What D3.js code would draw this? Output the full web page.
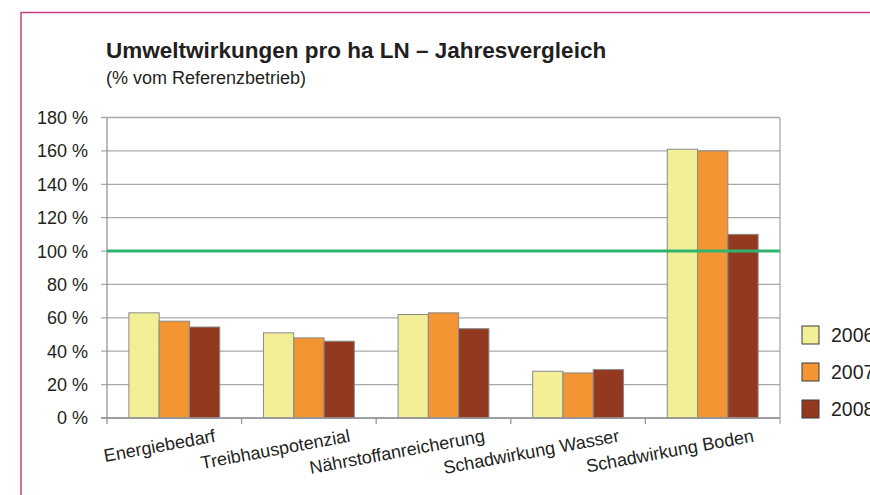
<!DOCTYPE html>
<html>
<head>
<meta charset="utf-8">
<script src="https://cdn.jsdelivr.net/npm/d3@7"></script>
<style>
  body { margin: 0; background: #fff; }
  text { font-family: "Liberation Sans", Arial, sans-serif; fill: #231f20; }
</style>
</head>
<body>
<div id="root"></div>
<script>
const categories = ["Energiebedarf", "Treibhauspotenzial", "Nährstoffanreicherung", "Schadwirkung Wasser", "Schadwirkung Boden"];
const years = ["2006", "2007", "2008"];
const values2006 = [63, 51, 62, 28, 161];
const values2007 = [58, 48, 63, 27, 160];
const values2008 = [54.5, 46, 53.5, 29, 110];
const yTicks = [0, 20, 40, 60, 80, 100, 120, 140, 160, 180];
const referenceLine = 100;
const colors = ["#f2ef97", "#f39532", "#933920"];

const seriesValues = [values2006, values2007, values2008];

const outerWidth = 870;
const outerHeight = 495;
const margin = { top: 117.5, left: 107, right: 90, bottom: 77 };
const width = outerWidth - margin.left - margin.right;
const height = outerHeight - margin.top - margin.bottom;

let svg = d3.select("#root")
            .append("svg")
            .attr("width", outerWidth)
            .attr("height", outerHeight);

// pink frame (top and left only visible)
svg.append("line")
    .attr("x1", 21).attr("x2", outerWidth)
    .attr("y1", 12.5).attr("y2", 12.5)
    .attr("stroke", "#c5417f").attr("stroke-width", 1.5);
svg.append("line")
    .attr("x1", 21).attr("x2", 21)
    .attr("y1", 12).attr("y2", outerHeight)
    .attr("stroke", "#c5417f").attr("stroke-width", 1.5);

svg.append("text")
    .attr("x", 106).attr("y", 57.5)
    .style("font-size", "22.5px")
    .style("font-weight", "bold")
    .text("Umweltwirkungen pro ha LN – Jahresvergleich");

svg.append("text")
    .attr("x", 106).attr("y", 83.5)
    .style("font-size", "18px")
    .text("(% vom Referenzbetrieb)");

let chart = svg.append("g")
               .attr("transform", `translate(${margin.left}, ${margin.top})`);

let scaleY = d3.scaleLinear().domain([0, 180]).range([height, 0]);
let scaleX = d3.scaleBand().domain(categories).range([0, width]).paddingInner(0.325).paddingOuter(0.1625);
let scaleSub = d3.scaleBand().domain(years).range([0, scaleX.bandwidth()]);

// gridlines with left tick extension
chart.append("g")
    .selectAll("line")
    .data(yTicks)
    .enter().append("line")
      .attr("x1", -6).attr("x2", width)
      .attr("y1", d => scaleY(d)).attr("y2", d => scaleY(d))
      .attr("stroke", "#a7a9ac").attr("stroke-width", 1.3);

// left and right frame of plot area
chart.append("line")
    .attr("x1", 0).attr("x2", 0).attr("y1", 0).attr("y2", height + 6)
    .attr("stroke", "#939598").attr("stroke-width", 1.3);
chart.append("line")
    .attr("x1", width).attr("x2", width).attr("y1", 0).attr("y2", height + 6)
    .attr("stroke", "#a7a9ac").attr("stroke-width", 1.3);

// category boundary ticks
chart.append("g")
    .selectAll("line")
    .data(d3.range(1, categories.length))
    .enter().append("line")
      .attr("x1", i => i * width / categories.length)
      .attr("x2", i => i * width / categories.length)
      .attr("y1", height).attr("y2", height + 6)
      .attr("stroke", "#939598").attr("stroke-width", 1.3);

chart.append("g")
    .selectAll("text")
    .data(yTicks)
    .enter().append("text")
      .attr("x", -19)
      .attr("y", d => scaleY(d))
      .attr("dy", "0.36em")
      .style("text-anchor", "end")
      .style("font-size", "18px")
      .text(d => `${d} %`);

// bars
let group = chart.selectAll(".cat")
    .data(categories)
    .enter().append("g")
      .attr("class", "cat")
      .attr("transform", d => `translate(${scaleX(d)}, 0)`);

group.selectAll("rect")
    .data((d, i) => years.map((y, j) => ({ year: y, value: seriesValues[j][i], k: j })))
    .enter().append("rect")
      .attr("x", d => scaleSub(d.year))
      .attr("width", scaleSub.bandwidth())
      .attr("y", d => scaleY(d.value))
      .attr("height", d => height - scaleY(d.value))
      .attr("fill", d => colors[d.k])
      .attr("stroke", "#8a8a8a")
      .attr("stroke-width", 1);

// 0 % baseline on top of bars
chart.append("line")
    .attr("x1", -6).attr("x2", width)
    .attr("y1", height).attr("y2", height)
    .attr("stroke", "#939598").attr("stroke-width", 1.3);

// reference line
chart.append("line")
    .attr("x1", 0).attr("x2", width)
    .attr("y1", scaleY(referenceLine)).attr("y2", scaleY(referenceLine))
    .attr("stroke", "#2fb36d").attr("stroke-width", 3);

// category labels
chart.append("g")
    .selectAll("text")
    .data(categories)
    .enter().append("text")
      .attr("transform", d => `translate(${scaleX(d) + scaleX.bandwidth() / 2 + 42}, ${height + 23.5}) rotate(-10.5)`)
      .style("text-anchor", "end")
      .style("font-size", "18px")
      .text(d => d);

// legend
let legend = svg.append("g")
    .selectAll("g")
    .data(years)
    .enter().append("g")
      .attr("transform", (d, i) => `translate(802, ${326 + i * 37})`);

legend.append("rect")
    .attr("width", 17).attr("height", 18)
    .attr("fill", (d, i) => colors[i])
    .attr("stroke", "#3a3a3a").attr("stroke-width", 1);

legend.append("text")
    .attr("x", 29).attr("y", 16)
    .style("font-size", "19.5px")
    .text(d => d);
</script>
</body>
</html>
